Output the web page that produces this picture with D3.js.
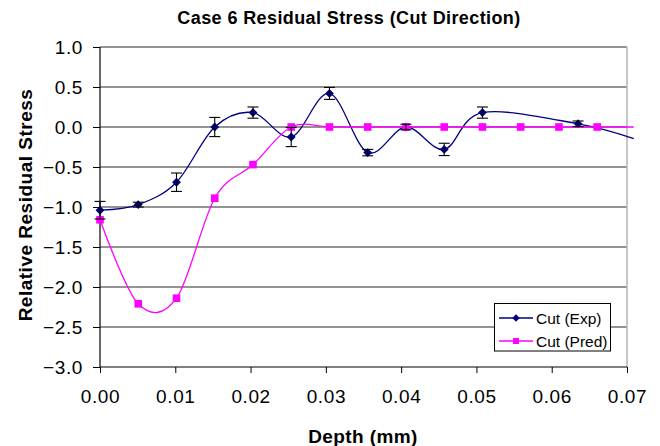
<!DOCTYPE html>
<html>
<head>
<meta charset="utf-8">
<script src="https://cdn.jsdelivr.net/npm/d3@7/dist/d3.min.js"></script>
<style>
  html, body { margin: 0; padding: 0; background: #fff; }
  svg { display: block; }
  text { font-family: "Liberation Sans", Arial, Helvetica, sans-serif; fill: #000; }
</style>
</head>
<body>
<svg id="chart" width="660" height="446"></svg>
<script>
// ---- data ----
const titleText = "Case 6 Residual Stress (Cut Direction)";
const xTitle = "Depth (mm)";
const yTitle = "Relative Residual Stress";
const seriesNames = ["Cut (Exp)", "Cut (Pred)"];

const depthExp  = [0, 0.00508, 0.01016, 0.01524, 0.02032, 0.0254, 0.03048, 0.03556, 0.04064, 0.04572, 0.0508, 0.0635, 0.0709];
const stressExp = [-1.04, -0.97, -0.69, 0.0, 0.18, -0.125, 0.42, -0.32, 0.0, -0.28, 0.18, 0.04, -0.145];
const errExp    = [0.11, 0.03, 0.115, 0.12, 0.07, 0.12, 0.075, 0.04, 0.035, 0.077, 0.07, 0.035, 0];

const depthPred  = [0, 0.00508, 0.01016, 0.01524, 0.02032, 0.0254, 0.03048, 0.03556, 0.04064, 0.04572, 0.0508, 0.05588, 0.06096, 0.06604, 0.0709];
const stressPred = [-1.16, -2.21, -2.14, -0.89, -0.47, 0.0, 0.0, 0.0, 0.0, 0.0, 0.0, 0.0, 0.0, 0.0, 0.0];

const xTicks = [0, 0.01, 0.02, 0.03, 0.04, 0.05, 0.06, 0.07];
const yTicks = [1.0, 0.5, 0.0, -0.5, -1.0, -1.5, -2.0, -2.5, -3.0];

// ---- layout ----
const L = 100, R = 627, T = 47, B = 367;
const xMax = 0.07;
const svg = d3.select("#chart");
const x = d3.scaleLinear().domain([0, xMax]).range([L, R]);
const y = d3.scaleLinear().domain([-3, 1]).range([B, T]);

const expPts = depthExp.map((d, i) => ({x: d, y: stressExp[i], e: errExp[i]}));
const predPts = depthPred.map((d, i) => ({x: d, y: stressPred[i]}));

// gridlines
svg.append("g").selectAll("line").data(yTicks.filter(v => v > -3)).join("line")
  .attr("x1", L).attr("x2", R)
  .attr("y1", d => y(d)).attr("y2", d => y(d))
  .attr("stroke", "#6f6f6f").attr("stroke-width", 1.3);

// right border
svg.append("line").attr("x1", R).attr("x2", R).attr("y1", T).attr("y2", B)
  .attr("stroke", "#b4b4b4").attr("stroke-width", 1.5);

// axes
const yAxis = d3.axisLeft(y).tickValues(yTicks).tickFormat(d3.format(".1f")).tickSize(7).tickPadding(10);
const gy = svg.append("g").attr("transform", `translate(${L},0)`).call(yAxis);
const xAxis = d3.axisBottom(x).tickValues(xTicks).tickFormat(d3.format(".2f")).tickSize(6).tickPadding(17);
const gx = svg.append("g").attr("transform", `translate(0,${B})`).call(xAxis);
[gx, gy].forEach(g => {
  g.select(".domain").attr("stroke", "#000").attr("stroke-width", 1.2);
  g.selectAll(".tick line").attr("stroke", "#000").attr("stroke-width", 1);
  g.selectAll(".tick text").style("font-family", '"Liberation Sans", Arial, sans-serif')
    .style("font-size", "19px").style("letter-spacing", "0.6px").attr("fill", "#000");
});
gy.select(".domain").attr("d", `M0,${B}V${T}`);
gx.select(".domain").attr("d", `M${L},0H${R}`);

// curves
const line = d3.line().x(d => x(d.x)).y(d => y(d.y)).curve(d3.curveCardinal.tension(0));

svg.append("path").datum(expPts).attr("d", line)
  .attr("fill", "none").attr("stroke", "#000080").attr("stroke-width", 1.3);
svg.append("g").selectAll("path").data(expPts.filter(d => d.x <= xMax)).join("path")
  .attr("d", d3.symbol(d3.symbolDiamond2, 50))
  .attr("transform", d => `translate(${x(d.x)},${y(d.y)})`)
  .attr("fill", "#000080");

svg.append("path").datum(predPts).attr("d", line)
  .attr("fill", "none").attr("stroke", "#ff00ff").attr("stroke-width", 1.3);
svg.append("g").selectAll("rect").data(predPts.filter(d => d.x <= xMax)).join("rect")
  .attr("x", d => x(d.x) - 3.8).attr("y", d => y(d.y) - 3.8)
  .attr("width", 7.6).attr("height", 7.6).attr("fill", "#ff00ff");

// error bars
const eb = svg.append("g").attr("stroke", "#000").attr("stroke-width", 1.1);
expPts.filter(d => d.e > 0).forEach(d => {
  const cx = x(d.x), y1 = y(d.y + d.e), y2 = y(d.y - d.e);
  eb.append("line").attr("x1", cx).attr("x2", cx).attr("y1", y1).attr("y2", y2);
  eb.append("line").attr("x1", cx - 5.5).attr("x2", cx + 5.5).attr("y1", y1).attr("y2", y1);
  eb.append("line").attr("x1", cx - 5.5).attr("x2", cx + 5.5).attr("y1", y2).attr("y2", y2);
});

// titles
svg.append("text").attr("x", 349).attr("y", 24).attr("text-anchor", "middle")
  .style("font-size", "18px").style("font-weight", "bold").style("letter-spacing", "0.4px").text(titleText);
svg.append("text").attr("x", 363).attr("y", 443).attr("text-anchor", "middle")
  .style("font-size", "19px").style("font-weight", "bold").style("letter-spacing", "0.4px").text(xTitle);
svg.append("text").attr("transform", `translate(32,205) rotate(-90)`).attr("text-anchor", "middle")
  .style("font-size", "19px").style("font-weight", "bold").style("letter-spacing", "0.5px").text(yTitle);

// legend
const lg = svg.append("g");
lg.append("rect").attr("x", 494.5).attr("y", 303.5).attr("width", 116).attr("height", 47.5)
  .attr("fill", "#fff").attr("stroke", "#000").attr("stroke-width", 1);
const legendRows = [
  {name: seriesNames[0], color: "#000080", sym: "diamond", yy: 318},
  {name: seriesNames[1], color: "#ff00ff", sym: "square", yy: 341}
];
legendRows.forEach(r => {
  lg.append("line").attr("x1", 499).attr("x2", 533).attr("y1", r.yy).attr("y2", r.yy)
    .attr("stroke", r.color).attr("stroke-width", 1.3);
  if (r.sym === "diamond") {
    lg.append("path").attr("d", d3.symbol(d3.symbolDiamond2, 36)).attr("transform", `translate(516,${r.yy})`).attr("fill", r.color);
  } else {
    lg.append("rect").attr("x", 513).attr("y", r.yy - 3).attr("width", 6).attr("height", 6).attr("fill", r.color);
  }
  lg.append("text").attr("x", 536).attr("y", r.yy + 5.5).style("font-size", "15.5px").text(r.name);
});
</script>
</body>
</html>
